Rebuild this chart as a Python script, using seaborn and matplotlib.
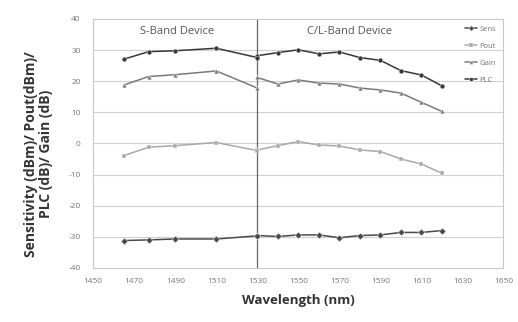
import matplotlib
matplotlib.use("Agg")
import matplotlib.pyplot as plt
import seaborn as sns
import pandas as pd

s_wl = [1465, 1477, 1490, 1510, 1530]
cl_wl = [1530, 1540, 1550, 1560, 1570, 1580, 1590, 1600, 1610, 1620]

sens_s = [-31.2, -31.0, -30.7, -30.7, -29.7]
sens_cl = [-29.6, -29.9, -29.4, -29.4, -30.3, -29.6, -29.4, -28.6, -28.6, -28.0]
pout_s = [-3.9, -1.2, -0.7, 0.3, -2.3]
pout_cl = [-2.1, -0.7, 0.6, -0.5, -0.8, -2.1, -2.6, -5.0, -6.6, -9.6]
gain_s = [18.8, 21.5, 22.1, 23.3, 17.8]
gain_cl = [21.2, 19.1, 20.4, 19.4, 19.1, 17.8, 17.2, 16.2, 13.2, 10.3]
plc_s = [27.1, 29.5, 29.8, 30.6, 27.6]
plc_cl = [28.2, 29.2, 30.1, 28.8, 29.4, 27.6, 26.7, 23.4, 22.0, 18.5]

series_names = ["Sens", "Pout", "Gain", "PLC"]
x_ticks = list(range(1450, 1651, 20))
y_ticks = list(range(-40, 41, 10))

rows = []
for name, sv, cv in zip(series_names, [sens_s, pout_s, gain_s, plc_s],
                        [sens_cl, pout_cl, gain_cl, plc_cl]):
    for w, v in zip(s_wl, sv):
        rows.append(dict(wl=w, val=v, series=name, band="S"))
    for w, v in zip(cl_wl, cv):
        rows.append(dict(wl=w, val=v, series=name, band="CL"))
df = pd.DataFrame(rows)

sns.set_style("white")
plt.rcParams["font.family"] = ["Open Sans", "DejaVu Sans"]

fig = plt.figure(figsize=(5.18, 3.22), dpi=100)
ax = fig.add_axes([0.180, 0.168, 0.792, 0.773])

palette = {"Sens": "#4a4a4a", "Pout": "#a8a8a8", "Gain": "#7a7a7a", "PLC": "#383838"}
markers = {"Sens": "D", "Pout": "s", "Gain": "^", "PLC": "o"}

sns.lineplot(data=df, x="wl", y="val", hue="series", style="series",
             units="band", estimator=None, palette=palette, markers=markers,
             dashes=False, hue_order=series_names, style_order=series_names,
             markersize=3.5, linewidth=1.1, ax=ax, legend=True,
             markeredgewidth=0.3)

ax.set_xlim(1450, 1650)
ax.set_ylim(-40, 40)
ax.set_xticks(x_ticks)
ax.set_yticks(y_ticks)
ax.set_xticklabels([str(t) for t in x_ticks], fontsize=6, color="#777777")
ax.set_yticklabels([str(t) for t in y_ticks], fontsize=6, color="#777777")
ax.tick_params(axis="y", length=0, pad=9)
ax.tick_params(axis="x", length=0, pad=7)
ax.grid(axis="y", color="#d0d0d0", linewidth=0.8)
ax.grid(axis="x", visible=False)
for sp in ["left", "bottom", "right", "top"]:
    ax.spines[sp].set_color("#c8c8c8")
    ax.spines[sp].set_linewidth(0.8)

ax.axvline(1530, color="#666666", linewidth=0.9, zorder=1)

ax.text(1491, 36, "S-Band Device", ha="center", va="center", fontsize=8, color="#555555")
ax.text(1575, 36, "C/L-Band Device", ha="center", va="center", fontsize=8, color="#555555")

ax.set_xlabel("Wavelength (nm)", fontsize=9.5, fontweight="bold", color="#333333", labelpad=7)
ax.set_ylabel("Sensitivity (dBm)/ Pout(dBm)/\nPLC (dB)/ Gain (dB)", fontsize=10,
              fontweight="bold", color="#333333", linespacing=1.1)
ax.yaxis.set_label_coords(-0.098, 0.458)

leg = ax.legend(loc="upper right", bbox_to_anchor=(0.995, 0.995), frameon=False,
                fontsize=5.5, handlelength=1.6, labelspacing=1.25, borderaxespad=0.3,
                handletextpad=0.3, markerscale=0.8)
for t in leg.get_texts():
    t.set_color("#777777")

fig.savefig("out.png", dpi=100)
